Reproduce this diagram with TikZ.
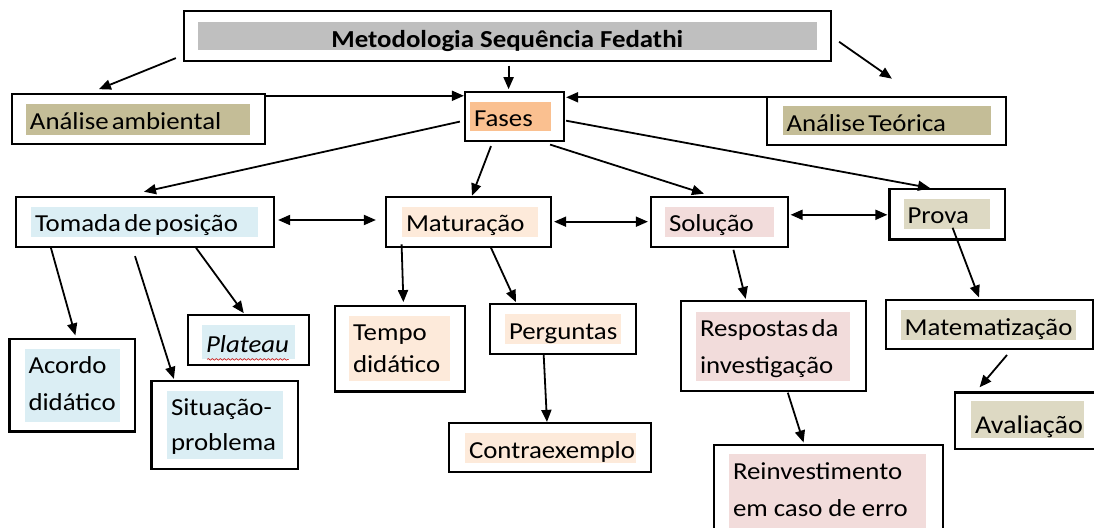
\documentclass[tikz,border=0pt]{standalone}
\usepackage{fontspec}
\setmainfont{Carlito}[FakeStretch=1.1]
\usetikzlibrary{arrows.meta,decorations.pathmorphing}

\definecolor{grayBar}{RGB}{191,191,191}
\definecolor{tanDark}{RGB}{196,189,151}
\definecolor{tanLight}{RGB}{221,217,195}
\definecolor{orangeL}{RGB}{250,192,144}
\definecolor{blueL}{RGB}{219,238,244}
\definecolor{peachL}{RGB}{253,234,218}
\definecolor{pinkL}{RGB}{242,220,219}

\begin{document}
\begin{tikzpicture}[x=0.5pt,y=-0.5pt,line width=0.9pt,>={Triangle[length=6pt,width=5pt]}]
    \tikzstyle{outer}=[draw, fill=white, line width=1.1pt, inner sep=0pt]
    \tikzstyle{hl}=[inner xsep=2pt, inner ysep=0pt, align=left, text height=12.6pt,
        font=\fontsize{12.2}{18.3}\selectfont, execute at begin node={\spaceskip=3pt\relax}]
    \tikzstyle{tight}=[execute at begin node={\spaceskip=1.6pt\relax}]

    \useasboundingbox (0,0) rectangle (1094,528);
    \clip (0,0) rectangle (1094,528);

    % title and the first level
    \node[outer, minimum width=323.5pt, minimum height=24.9pt] (titulo) at (507.5,35.9) {};
    \node[hl, fill=grayBar, minimum width=309.25pt, text height=12.9pt, text depth=1.15pt, font=\bfseries\fontsize{12.2}{18.3}\selectfont] (tituloT) at (507.25,35.95) {Metodologia Sequência Fedathi};

    \node[outer, minimum width=126.7pt, minimum height=24.95pt] (amb) at (138.3,119.05) {};
    \node[hl, tight, fill=tanDark, text width=108pt, text depth=2.6pt] (ambT) at (138,119.7) {Análise ambiental};

    \node[outer, minimum width=49.5pt, minimum height=24.65pt] (fases) at (514.5,116.35) {};
    \node[hl, fill=orangeL, text width=36.5pt, text depth=1.9pt] (fasesT) at (510.5,116.2) {Fases};

    \node[outer, minimum width=119.5pt, minimum height=24.25pt] (teo) at (886.5,121.15) {};
    \node[hl, tight, fill=tanDark, text width=100.25pt, text depth=1.85pt] (teoT) at (886.75,120.45) {Análise Teórica};

    % phases
    \node[outer, minimum width=128.8pt, minimum height=25pt] (tomada) at (144.8,221.7) {};
    \node[hl, tight, fill=blueL, text width=109.5pt, text depth=2.35pt] (tomadaT) at (144.5,221.65) {Tomada de posição};

    \node[outer, minimum width=82.5pt, minimum height=25pt] (mat) at (468.5,221.7) {};
    \node[hl, fill=peachL, text width=64pt, text depth=2.35pt] (matT) at (470,221.65) {Maturação};

    \node[outer, minimum width=68.5pt, minimum height=25pt] (sol) at (719.5,221.7) {};
    \node[hl, fill=pinkL, text width=50.5pt, text depth=2.35pt] (solT) at (719.5,221.65) {Solução};

    \node[outer, minimum width=57.75pt, minimum height=25.2pt] (prova) at (947.25,214.3) {};
    \node[hl, fill=tanLight, text width=39.25pt, text depth=2.6pt] (provaT) at (946.75,213.8) {Prova};

    % Tomada de posicao
    \node[outer, minimum width=62.75pt, minimum height=46.1pt] (acordo) at (72.25,385.4) {};
    \node[hl, fill=blueL, text width=43.75pt, text depth=23.8pt] (acordoT) at (72.25,385.2) {Acordo\\didático};

    \node[outer, minimum width=73.25pt, minimum height=44.15pt] (sit) at (224.75,425.15) {};
    \node[hl, fill=blueL, text width=53.85pt, text depth=21.65pt, font=\fontsize{12.2}{17.5}\selectfont] (sitT) at (224.85,424.85) {Situação-\\problema};

    \node[outer, minimum width=60.65pt, minimum height=25pt] (plat) at (248.35,340) {};
    \node[hl, fill=blueL, text width=42.3pt, text height=13.8pt, text depth=3.15pt] (platT) at (248.3,342.05) {\textit{Plateau}};
    \draw[red!75!black, line width=0.3pt, decorate, decoration={snake, amplitude=0.4pt, segment length=2pt}]
        ([shift={(6,-0.5)}]platT.south west) -- ([shift={(-6.6,-0.5)}]platT.south east);

    % Maturacao
    \node[outer, minimum width=64.85pt, minimum height=42.75pt] (tempo) at (399.85,348.85) {};
    \node[hl, fill=peachL, text width=46.5pt, text depth=20.15pt, font=\fontsize{12.2}{16}\selectfont] (tempoT) at (399.5,348.35) {Tempo\\didático};

    \node[outer, minimum width=73pt, minimum height=24.9pt] (perg) at (563,329.1) {};
    \node[hl, fill=peachL, text width=53.75pt, text depth=2.3pt] (pergT) at (562.75,329.2) {Perguntas};

    \node[outer, minimum width=101pt, minimum height=24.7pt] (contra) at (550,447.7) {};
    \node[hl, fill=peachL, text width=81.5pt, text depth=2.35pt] (contraT) at (550.5,448.35) {Contraexemplo};

    % Solucao
    \node[outer, minimum width=92.4pt, minimum height=44.85pt] (resp) at (773.2,346.15) {};
    \node[hl, tight, fill=pinkL, text width=73pt, text depth=22.05pt] (respT) at (773,346.45) {Respostas da\\investigação};

    \node[outer, minimum width=114.4pt, minimum height=50.1pt] (reinv) at (828.4,494.9) {};
    \node[hl, fill=pinkL, text width=94.5pt, text depth=30.2pt] (reinvT) at (827.5,497.2) {Reinvestimento\\em caso de erro};

    % Prova
    \node[outer, minimum width=103.5pt, minimum height=24.65pt] (matz) at (989.5,324.65) {};
    \node[hl, fill=tanLight, text width=83.85pt, text depth=2.45pt] (matzT) at (988.55,324.95) {Matematização};

    \node[outer, minimum width=75pt, minimum height=28.35pt] (aval) at (1030,420.85) {};
    \node[hl, fill=tanLight, text width=52.5pt, text height=16pt, text depth=2.25pt, font=\fontsize{12.8}{18.3}\selectfont] (avalT) at (1027.5,419.45) {Avaliação};

    % connectors
    \draw[->] ([shift={(-7,-3.8)}]titulo.south west) -- ([shift={(88.4,-3.8)}]amb.north west);
    \draw[->] ([shift={(1.1,3.8)}]titulo.south) -- ([shift={(-5.9,-1.4)}]fases.north);
    \draw[->] ([shift={(7,5.9)}]titulo.east) -- ([shift={(126,-17.1)}]teo.north west);
    \draw[->] ([shift={(0,2.8)}]amb.north east) -- ([shift={(0,5.2)}]fases.north west);
    \draw[->] ([shift={(0,1.5)}]teo.north west) -- ([shift={(1,6.7)}]fases.north east);

    \draw[->] ([shift={(-4,5.25)}]fases.west) -- ([shift={(-0.8,-3.8)}]tomada.north);
    \draw[->] ([shift={(-23.5,4)}]fases.south) -- ([shift={(3.5,0)}]mat.north);
    \draw[->] ([shift={(-15,2.5)}]fases.south east) -- ([shift={(-15.5,-1.9)}]sol.north);
    \draw[->] ([shift={(1,4.35)}]fases.east) -- ([shift={(-17.25,0)}]prova.north);

    \draw[<->] ([shift={(3.4,-1.7)}]tomada.east) -- ([shift={(-9,-1.7)}]mat.west);
    \draw[<->] ([shift={(2,0)}]mat.east) -- ([shift={(-2,0)}]sol.west);
    \draw[<->] ([shift={(1.5,-6.9)}]sol.east) -- ([shift={(-1,0.5)}]prova.west);

    \draw[->] ([shift={(36,0)}]tomada.south west) -- ([shift={(3.15,-2.8)}]acordo.north);
    \draw[->] ([shift={(-9.8,8.3)}]tomada.south) -- ([shift={(23.5,-1)}]sit.north west);
    \draw[->] ([shift={(51.2,0)}]tomada.south) -- ([shift={(-4.55,-0.7)}]plat.north);

    \draw[->] ([shift={(16.7,-3.4)}]mat.south west) -- ([shift={(3.55,-2.9)}]tempo.north);
    \draw[->] ([shift={(22.5,0)}]mat.south) -- ([shift={(27,-1)}]perg.north west);
    \draw[->] ([shift={(-19.3,0)}]perg.south) -- ([shift={(-3,0)}]contra.north);

    \draw[->] ([shift={(13.9,2)}]sol.south) -- ([shift={(-27.5,-1.3)}]resp.north);
    \draw[->] ([shift={(14.6,0.6)}]resp.south) -- ([shift={(-24.8,-1.2)}]reinv.north);

    \draw[->] ([shift={(5.35,-12.8)}]prova.south) -- ([shift={(-10.5,-1.5)}]matz.north);
    \draw[->] ([shift={(17.5,4.6)}]matz.south) -- ([shift={(25.7,-4.1)}]aval.north west);
\end{tikzpicture}
\end{document}
